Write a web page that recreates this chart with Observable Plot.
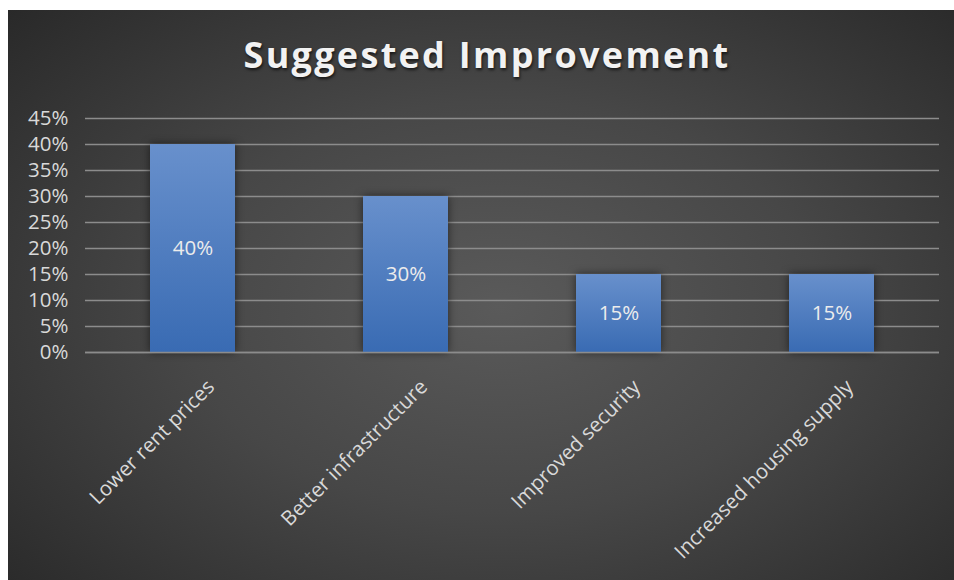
<!DOCTYPE html>
<html>
<head>
<meta charset="utf-8">
<script src="https://cdn.jsdelivr.net/npm/d3@7"></script>
<script src="https://cdn.jsdelivr.net/npm/@observablehq/plot@0.6"></script>
<style>
  html, body { margin: 0; padding: 0; background: #ffffff; }
  #chart {
    position: absolute; left: 8px; top: 10px; width: 946px; height: 570px;
    background: radial-gradient(ellipse 75% 80% at 52% 52%, #5a5a5a 0%, #474747 45%, #2f2f2f 85%, #262626 100%);
    overflow: hidden;
    font-family: "Open Sans", sans-serif;
  }
  #title {
    position: absolute; left: 6px; top: 20px; width: 946px; text-align: center;
    font-family: "Open Sans", sans-serif; font-weight: 700; font-size: 36px;
    letter-spacing: 2.3px; color: #f2f2f2; line-height: normal;
    text-shadow: 1px 2px 3px rgba(0,0,0,0.65);
  }
  #plot { position: absolute; left: 0; top: 80px; }
  #plot svg { background: transparent !important; overflow: visible; }
</style>
</head>
<body>
<div id="chart">
  <div id="title">Suggested Improvement</div>
  <div id="plot"></div>
</div>
<script>
const categories = ["Lower rent prices", "Better infrastructure", "Improved security", "Increased housing supply"];
const values = [0.40, 0.30, 0.15, 0.15];
const yTicks = [0, 0.05, 0.10, 0.15, 0.20, 0.25, 0.30, 0.35, 0.40, 0.45];

const data = categories.map((c, i) => ({category: c, value: values[i]}));
const pct = d3.format(".0%");

const chart = Plot.plot({
  width: 946,
  height: 490,
  marginTop: 28,
  marginBottom: 228,
  marginLeft: 77,
  marginRight: 15,
  style: {background: "transparent", fontFamily: "Open Sans, sans-serif", color: "#d9d9d9"},
  x: {domain: categories, paddingInner: 0.6, paddingOuter: 0.3, axis: null},
  y: {domain: [0, 0.45], axis: null},
  marks: [
    Plot.gridY(yTicks, {stroke: "#8c8c8c", strokeOpacity: 1, strokeWidth: 1.3}),
    Plot.axisY(yTicks, {tickSize: 0, tickPadding: 17, tickFormat: pct, fontSize: 20.5, fill: "#d9d9d9", label: null}),
    Plot.barY(data, {x: "category", y: "value", fill: "url(#barGrad)"}),
    Plot.ruleY([0], {stroke: "#8c8c8c", strokeWidth: 1.5}),
    Plot.text(data, {x: "category", y: d => d.value / 2, text: d => pct(d.value), fill: "#ececec", fontSize: 20.5}),
    Plot.text(data, {x: "category", y: () => 0, text: "category", rotate: -45, textAnchor: "end", lineAnchor: "middle", dx: 18, dy: 31, fontSize: 20.5, fill: "#d9d9d9"})
  ]
});

const svg = d3.select(chart);
const defs = svg.insert("defs", ":first-child");
const grad = defs.append("linearGradient").attr("id", "barGrad").attr("x1", 0).attr("y1", 0).attr("x2", 0).attr("y2", 1);
grad.append("stop").attr("offset", "0%").attr("stop-color", "#6890cc");
grad.append("stop").attr("offset", "100%").attr("stop-color", "#396bb3");
svg.selectAll("g[aria-label='bar']").style("filter", "drop-shadow(0px 0px 4px rgba(0,0,0,0.55))");

document.getElementById("plot").appendChild(chart);
</script>
</body>
</html>
